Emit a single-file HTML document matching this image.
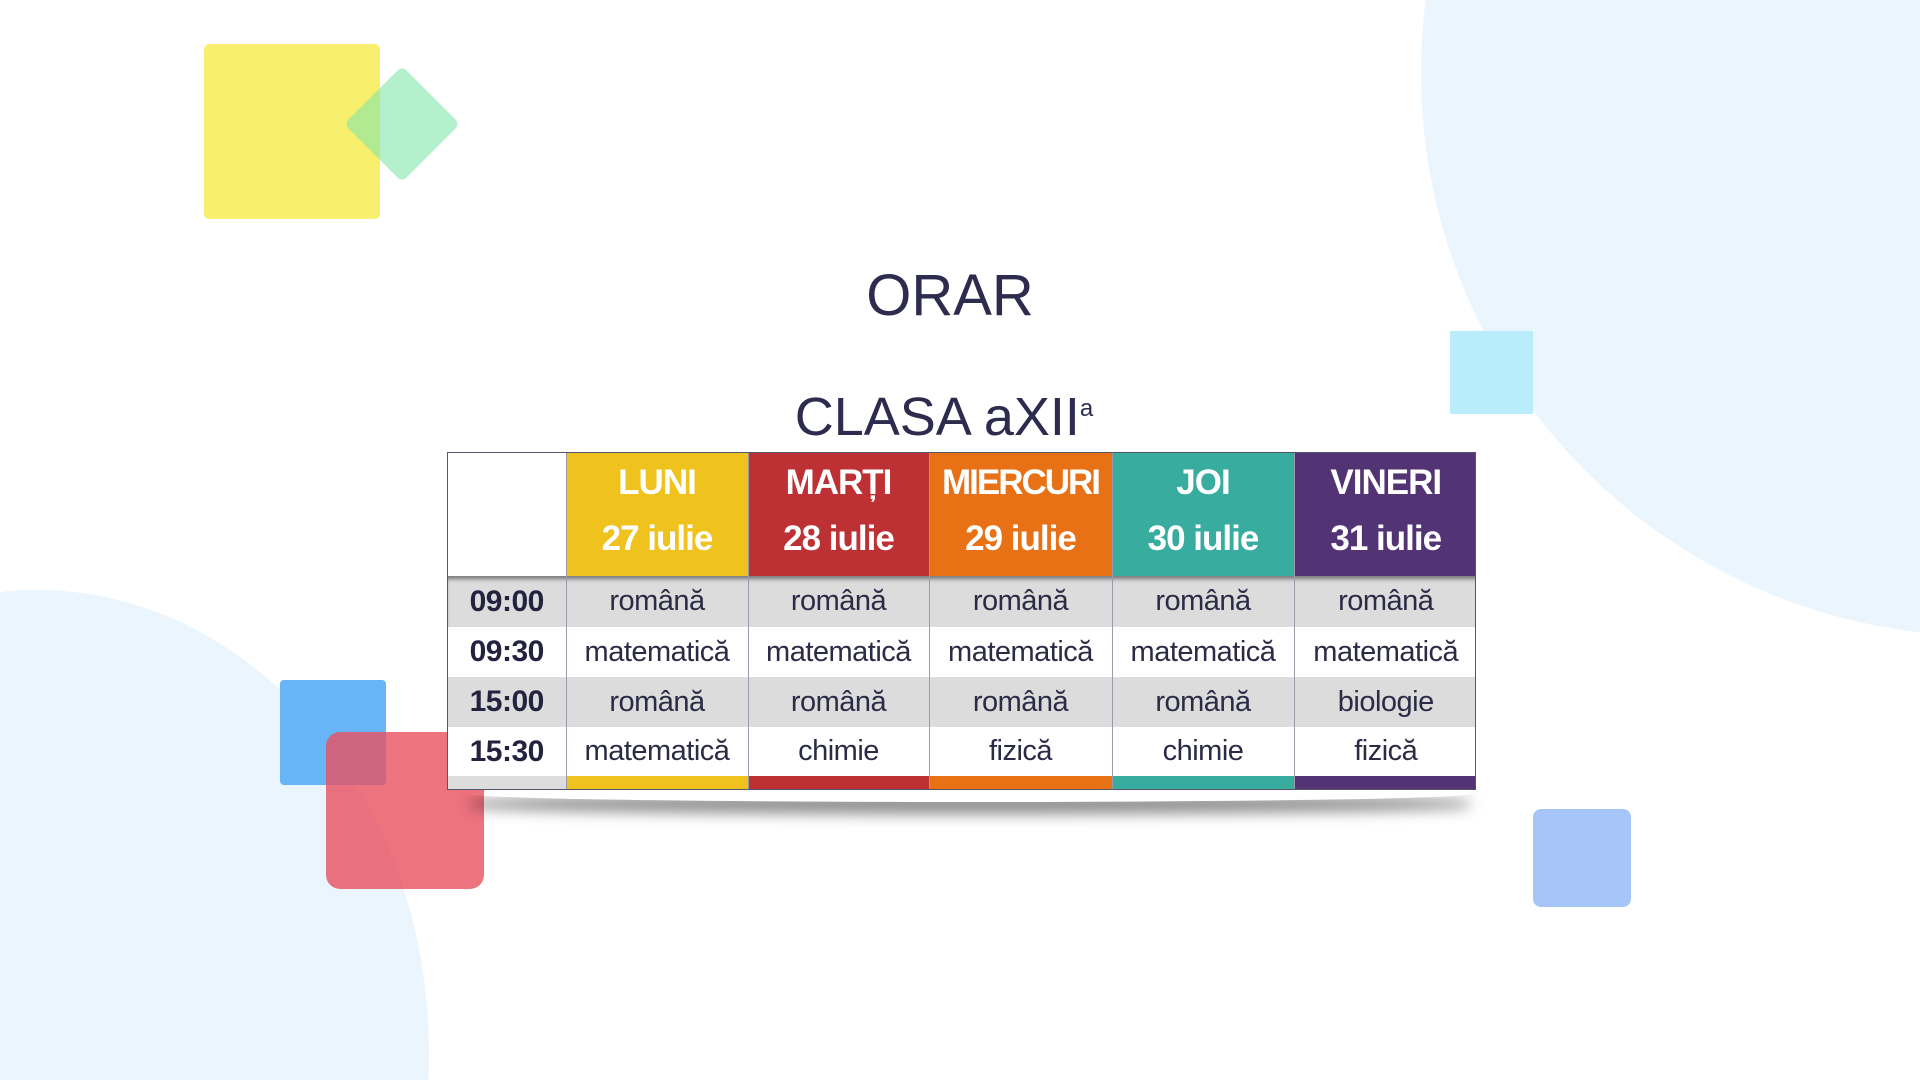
<!DOCTYPE html>
<html><head><meta charset="utf-8"><style>
html,body{margin:0;padding:0;width:1920px;height:1080px;overflow:hidden}
#w{position:relative;width:1920px;height:1080px;overflow:hidden;background:#fff;font-family:"Liberation Sans",sans-serif}
.a{position:absolute}
table{border-collapse:collapse;table-layout:fixed}
td{padding:0;text-align:center;color:#2b2b45;font-size:29px;border-left:1px solid #9a9aa8;letter-spacing:-0.5px}
.h td{color:#fff;font-weight:bold;font-size:35px;height:123px;vertical-align:top;padding-top:10px;box-sizing:border-box;letter-spacing:-1px}
.tm{font-weight:bold;font-size:30px;color:#23223f}
</style></head><body><div id="w">
<svg class="a" style="left:0;top:0" width="1920" height="1080"><circle cx="1984" cy="73" r="563" fill="#eaf5fd"/><ellipse cx="37" cy="1053" rx="392" ry="463" fill="#eaf5fd"/></svg>
<div class="a" style="left:204px;top:44px;width:176px;height:175px;border-radius:5px;background:#f9ef6e"></div>
<div class="a" style="left:361px;top:83px;width:82px;height:82px;transform:rotate(45deg);border-radius:6px;background:rgba(130,230,170,.6)"></div>
<div class="a" style="left:1450px;top:331px;width:83px;height:83px;background:#b9edfb"></div>
<div class="a" style="left:280px;top:680px;width:106px;height:105px;border-radius:4px;background:#67b4f7"></div>
<div class="a" style="left:326px;top:732px;width:158px;height:157px;border-radius:14px;background:rgba(232,80,95,.8)"></div>
<div class="a" style="left:1533px;top:809px;width:98px;height:98px;border-radius:8px;background:#a6c6f9"></div>
<div class="a" style="left:0;width:1900px;top:262px;text-align:center;font-size:58px;color:#2d2b4e">ORAR</div>
<div class="a" style="left:0;width:1888px;top:386px;text-align:center;font-size:54px;color:#2d2b4e">CLASA aXII<sup style="font-size:24px">a</sup></div>
<div class="a" style="left:470px;top:782px;width:1000px;height:20px;box-shadow:0 12px 14px rgba(0,0,0,.45);border-radius:50%/40%"></div>
<div class="a" style="left:447px;top:452px;width:1029px;height:338px;background:#fff;border:1px solid #55556a;box-sizing:border-box;overflow:hidden">
<table style="width:1029px">
<colgroup><col style="width:118px"><col style="width:182px"><col style="width:181px"><col style="width:183px"><col style="width:182px"><col style="width:183px"></colgroup>
<tr class="h"><td style="border-left:none;background:#fff"></td>
<td style="background:#efc21d">LUNI<br><div style="margin-top:16px">27 iulie</div></td>
<td style="background:#bd3033">MARȚI<br><div style="margin-top:16px">28 iulie</div></td>
<td style="background:#e87015;letter-spacing:-2px">MIERCURI<br><div style="margin-top:16px;letter-spacing:-1px">29 iulie</div></td>
<td style="background:#37ac9f">JOI<br><div style="margin-top:16px">30 iulie</div></td>
<td style="background:#523474">VINERI<br><div style="margin-top:16px">31 iulie</div></td></tr>
<tr style="background:#dcdcdc;height:51px;box-shadow:inset 0 5px 4px -2px #777"><td class="tm" style="border-left:none">09:00</td><td>română</td><td>română</td><td>română</td><td>română</td><td>română</td></tr>
<tr style="background:#fff;height:50px"><td class="tm" style="border-left:none">09:30</td><td>matematică</td><td>matematică</td><td>matematică</td><td>matematică</td><td>matematică</td></tr>
<tr style="background:#dcdcdc;height:50px"><td class="tm" style="border-left:none">15:00</td><td>română</td><td>română</td><td>română</td><td>română</td><td>biologie</td></tr>
<tr style="background:#fff;height:49px"><td class="tm" style="border-left:none">15:30</td><td>matematică</td><td>chimie</td><td>fizică</td><td>chimie</td><td>fizică</td></tr>
<tr style="height:13px"><td style="border-left:none;background:#ddd"></td><td style="background:#efc21d"></td><td style="background:#bd3033"></td><td style="background:#e87015"></td><td style="background:#37ac9f"></td><td style="background:#523474"></td></tr>
</table></div>
</div></body></html>
